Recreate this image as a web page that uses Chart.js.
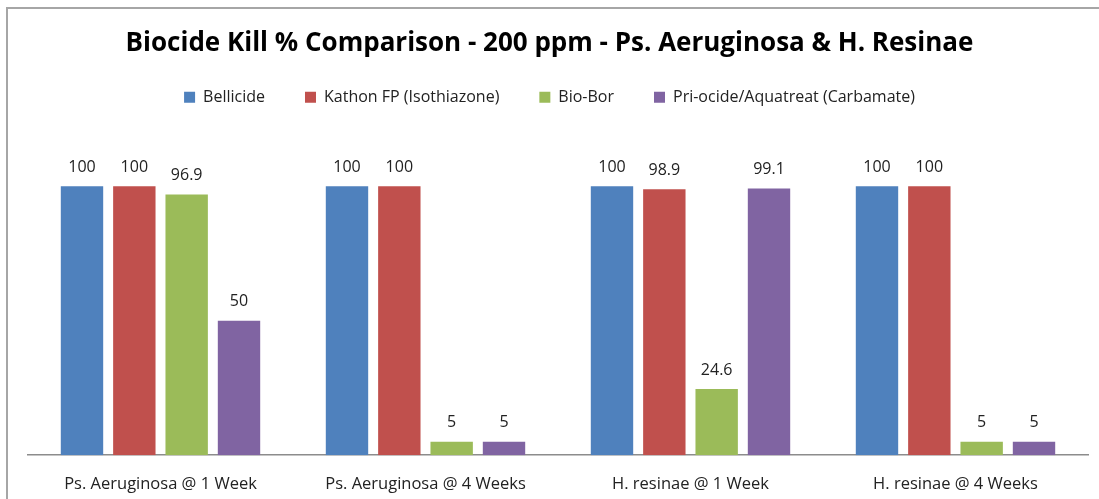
<!DOCTYPE html>
<html>
<head>
<meta charset="utf-8">
<script src="https://cdn.jsdelivr.net/npm/chart.js@4.4.0/dist/chart.umd.min.js"></script>
<style>
  html, body { margin: 0; padding: 0; background: #fff; overflow: hidden; }
  #frame { position: absolute; left: 6px; top: 7px; width: 1200px; height: 600px;
           border-left: 2px solid #a6a6a6; border-top: 2px solid #a6a6a6; }
  #chart { position: absolute; left: 0; top: 0; }
</style>
</head>
<body>
<div id="frame"></div>
<canvas id="chart" width="1099" height="499"></canvas>
<script>
const categories = ['Ps. Aeruginosa @ 1 Week', 'Ps. Aeruginosa @ 4 Weeks', 'H. resinae @ 1 Week', 'H. resinae @ 4 Weeks'];
const bellicide = [100, 100, 100, 100];
const kathon = [100, 100, 98.9, 100];
const bioBor = [96.9, 5, 24.6, 5];
const priocide = [50, 5, 99.1, 5];

const fontFamily = "'Open Sans', 'DejaVu Sans', sans-serif";
const textColor = '#222';

// value labels above each bar
const barLabels = {
    id: 'barLabels',
    afterDatasetsDraw(chart) {
        const ctx = chart.ctx;
        ctx.save();
        ctx.font = '16px ' + fontFamily;
        ctx.fillStyle = textColor;
        ctx.textAlign = 'center';
        ctx.textBaseline = 'middle';
        chart.data.datasets.forEach((ds, i) => {
            chart.getDatasetMeta(i).data.forEach((bar, j) => {
                ctx.fillText(String(ds.data[j]), bar.x, bar.y - 19);
            });
        });
        ctx.restore();
    }
};

const mk = (label, data, color) => ({
    label, data,
    backgroundColor: color,
    borderWidth: 0,
    categoryPercentage: 0.79,
    barPercentage: 0.81
});

new Chart(document.getElementById('chart'), {
    type: 'bar',
    data: {
        labels: categories,
        datasets: [
            mk('Bellicide', bellicide, '#4F81BD'),
            mk('Kathon FP (Isothiazone)', kathon, '#C0504D'),
            mk('Bio-Bor', bioBor, '#9BBB59'),
            mk('Pri-ocide/Aquatreat (Carbamate)', priocide, '#8064A2')
        ]
    },
    options: {
        responsive: false,
        animation: false,
        layout: { padding: { left: 11, right: 11, top: 0, bottom: -14 } },
        scales: {
            x: {
                grid: { display: false, drawTicks: false },
                border: { display: true, color: '#8c8c8c', width: 1.5 },
                ticks: { color: textColor, font: { family: fontFamily, size: 16.5 }, padding: 19, maxRotation: 0 }
            },
            // hidden value axis, kept only for its left gap
            y: {
                min: 0, max: 120,
                grid: { display: false, drawTicks: false },
                border: { display: false },
                ticks: { display: false },
                afterFit(scale) { scale.width = 17; }
            }
        },
        plugins: {
            title: {
                display: true,
                text: 'Biocide Kill % Comparison - 200 ppm - Ps. Aeruginosa & H. Resinae',
                color: '#000',
                font: { family: fontFamily, size: 26, weight: 'bold' },
                padding: { top: 28, bottom: -10 }
            },
            // empty spacer between legend and plot
            subtitle: {
                display: true,
                text: '',
                weight: 500,
                font: { size: 1 },
                padding: { top: 16, bottom: 0 }
            },
            legend: {
                labels: {
                    color: textColor,
                    font: { family: fontFamily, size: 16 },
                    boxWidth: 11, boxHeight: 11,
                    padding: 40
                }
            },
            tooltip: { enabled: false }
        }
    },
    plugins: [barLabels]
});
</script>
</body>
</html>
